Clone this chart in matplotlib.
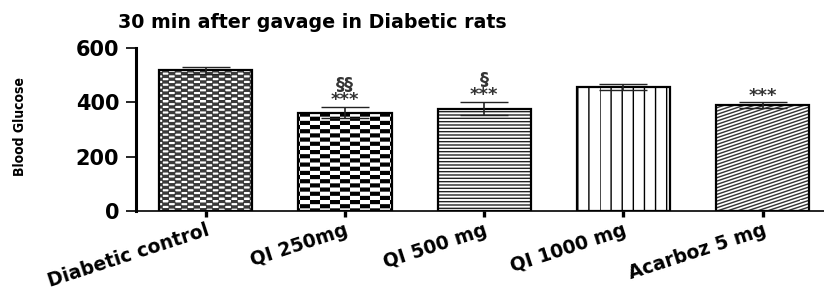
import warnings
import numpy as np
import matplotlib
matplotlib.use('Agg')
import matplotlib.pyplot as plt
from matplotlib import hatch as mhatch
from matplotlib.path import Path

warnings.filterwarnings('ignore')

# ---------------- data ----------------
categories = ['Diabetic control', 'QI 250mg', 'QI 500 mg', 'QI 1000 mg', 'Acarboz 5 mg']
glucose = [518, 362, 377, 457, 390]
sem = [12, 21, 24, 10, 10]
star_labels = ['', '***', '***', '', '***']
section_labels = ['', '§§', '§', '', '']
yticks = [0, 200, 400, 600]
title = '30 min after gavage in Diabetic rats'
ylabel = 'Blood Glucose'

# ---------------- custom hatch patterns ----------------
plt.rcParams['hatch.linewidth'] = 1.0
_HLW = plt.rcParams['hatch.linewidth']


class _Checker(mhatch.HatchPatternBase):
    char = 'k'
    ncols = 10
    nrows = 24
    grow = 0.0

    def __init__(self, hatch, density):
        n = hatch.count(self.char)
        self.ncells = (self.ncols * self.nrows) // 2 if n else 0
        self.num_vertices = self.ncells * 5
        self.filled = True

    def set_vertices_and_codes(self, vertices, codes):
        inset = (_HLW / 72.0) / 2.0 - self.grow
        dx = 1.0 / self.ncols
        dy = 1.0 / self.nrows
        k = 0
        for j in range(self.nrows):
            for i in range(self.ncols):
                if (i + j) % 2:
                    continue
                x0, x1 = i * dx + inset, (i + 1) * dx - inset
                y0, y1 = j * dy + inset, (j + 1) * dy - inset
                vertices[k:k + 5] = [(x0, y0), (x1, y0), (x1, y1), (x0, y1), (x0, y0)]
                codes[k:k + 5] = [Path.MOVETO, Path.LINETO, Path.LINETO,
                                  Path.LINETO, Path.CLOSEPOLY]
                k += 5


class _FineChecker(_Checker):
    char = 'q'
    ncols = 16
    nrows = 36
    grow = 0.003


class _VLines(mhatch.HatchPatternBase):
    def __init__(self, hatch, density):
        self.num_lines = 9 * hatch.count('v')
        self.num_vertices = self.num_lines * 2

    def set_vertices_and_codes(self, vertices, codes):
        xs = np.linspace(0, 1, self.num_lines, endpoint=False)
        vertices[0::2, 0] = xs
        vertices[0::2, 1] = 0.0
        vertices[1::2, 0] = xs
        vertices[1::2, 1] = 1.0
        codes[0::2] = Path.MOVETO
        codes[1::2] = Path.LINETO


class _ShallowDiag(mhatch.HatchPatternBase):
    def __init__(self, hatch, density):
        n = hatch.count('w')
        self.num_lines = 40 if n else 0
        self.num_vertices = self.num_lines * 2

    def set_vertices_and_codes(self, vertices, codes):
        y0 = np.arange(-10, 30) / 30.0
        vertices[0::2, 0] = 0.0
        vertices[0::2, 1] = y0
        vertices[1::2, 0] = 1.0
        vertices[1::2, 1] = y0 + 1.0 / 3.0
        codes[0::2] = Path.MOVETO
        codes[1::2] = Path.LINETO


for _cls in (_Checker, _FineChecker, _VLines, _ShallowDiag):
    mhatch._hatch_types.append(_cls)

hatches = ['q', 'k', '-----', 'v', 'w']
hatch_colors = ['#3a3a3a', 'black', '#222222', 'black', '#333333']

# ---------------- figure ----------------
fig = plt.figure(figsize=(8.24, 2.93), dpi=100)
ax = fig.add_axes([136 / 824, 82 / 293, (824 - 136) / 824, 163 / 293])

x = np.arange(len(categories))
bars = ax.bar(x, glucose, width=0.67, color='white', edgecolor='black',
              linewidth=1.6, zorder=2)
for b, h, hc in zip(bars, hatches, hatch_colors):
    b.set_hatch(h)
    try:
        b.set_hatchcolor(hc)
    except AttributeError:
        b._hatch_color = matplotlib.colors.to_rgba(hc)

ax.errorbar(x, glucose, yerr=sem, fmt='none', ecolor='#222222',
            elinewidth=1.2, capsize=17, capthick=1.0, zorder=3)

for xi, g, s, st, sec in zip(x, glucose, sem, star_labels, section_labels):
    top = g + s
    lines = [t for t in (sec, st) if t]
    if lines:
        ax.text(xi, top - 8, '\n'.join(lines), ha='center', va='bottom',
                fontsize=13, fontweight='bold', color='#333333',
                linespacing=0.8, multialignment='center', zorder=4)

ax.set_xlim(-0.5, 4.44)
ax.set_ylim(0, 600)
ax.set_yticks(yticks)
ax.set_yticklabels([str(v) for v in yticks], fontsize=15, fontweight='bold')
ax.set_xticks(x)
ax.set_xticklabels(categories, fontsize=13.5, fontweight='bold', rotation=18,
                   ha='right', rotation_mode='anchor')

for sp in ('top', 'right'):
    ax.spines[sp].set_visible(False)
ax.spines['left'].set_linewidth(2.2)
ax.spines['bottom'].set_linewidth(1.2)
ax.tick_params(axis='y', direction='out', length=7, width=1.2, pad=5)
ax.tick_params(axis='x', direction='out', length=4, width=2.4, pad=3)

ax.set_ylabel(ylabel, family=['Liberation Sans Narrow', 'DejaVu Sans'],
              fontstretch='condensed', fontweight='bold', fontsize=10)
ax.yaxis.set_label_coords(-0.158, 0.52)

fig.text(312 / 824, 1 - 22 / 293, title, ha='center', va='center',
         fontsize=13.7, fontweight='bold')

fig.savefig('out.png', dpi=100)
